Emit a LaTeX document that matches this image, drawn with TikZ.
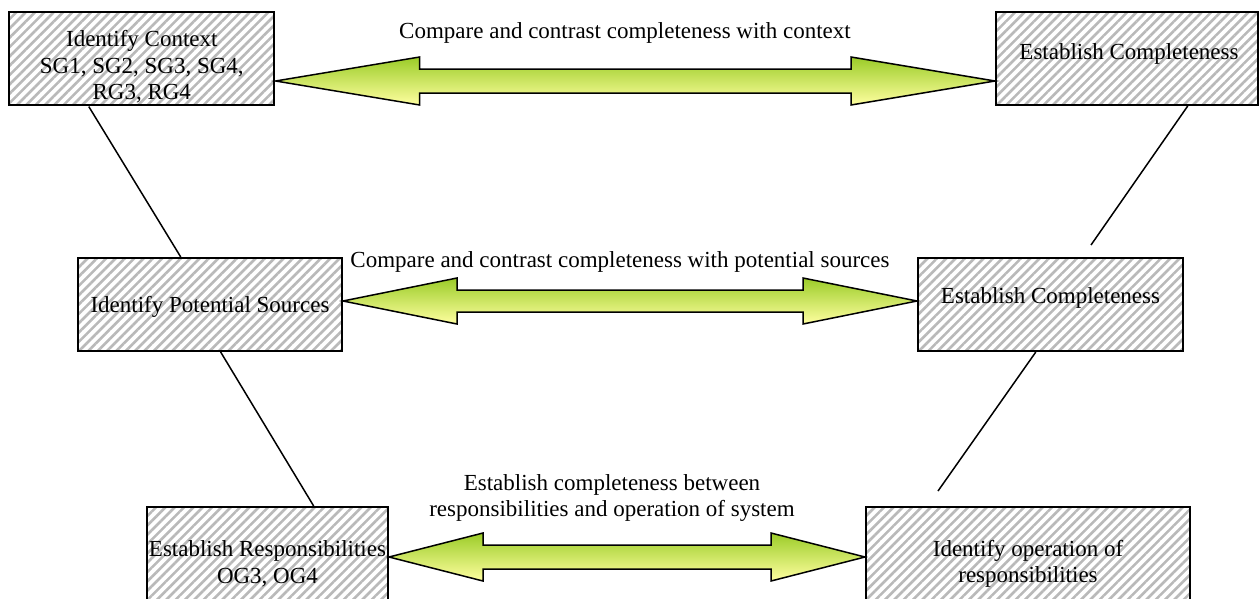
\documentclass[tikz,border=0pt]{standalone}
\usepackage{fontspec}
\setmainfont{Liberation Serif}
\usetikzlibrary{patterns.meta,calc}
\definecolor{arrtop}{RGB}{155,204,40}
\definecolor{arrbot}{RGB}{255,255,160}
\definecolor{hatch}{RGB}{185,185,185}
\tikzset{
  box/.style={draw=black, line width=2pt, anchor=north west, inner sep=0pt,
    pattern={Lines[angle=45,distance=6.6pt,line width=2.6pt]}, pattern color=hatch},
  link/.style={draw=black, line width=1.5pt},
  fat/.style={draw=black, line width=1.5pt, line join=miter, top color=arrtop, bottom color=arrbot},
  lbl/.style={align=center, font=\fontsize{23}{26.5}\selectfont, inner sep=0pt}
}
% #1 left tip, #2 right tip, #3 head length, #4 head half height, #5 shaft half height
\newcommand{\fatarrow}[5]{%
  \path[fat] (#1) -- ($(#1)+(#3,#4)$) -- ($(#1)+(#3,#5)$) -- ($(#2)+(-#3,#5)$) -- ($(#2)+(-#3,#4)$)
    -- (#2) -- ($(#2)+(-#3,-#4)$) -- ($(#2)+(-#3,-#5)$) -- ($(#1)+(#3,-#5)$) -- ($(#1)+(#3,-#4)$) -- cycle;}
\begin{document}
\begin{tikzpicture}[x=1pt,y=-1pt]
\useasboundingbox (0,0) rectangle (1259,598);
\node[box, minimum width=265pt, minimum height=93pt] (A) at (8,11) {};
\node[box, minimum width=262pt, minimum height=93pt] (B) at (995,11) {};
\node[box, minimum width=264pt, minimum height=93pt] (C) at (77,257) {};
\node[box, minimum width=265pt, minimum height=93pt] (D) at (917,257) {};
\node[box, minimum width=241pt, minimum height=100pt] (E) at (146,506) {};
\node[box, minimum width=324pt, minimum height=100pt] (F) at (865,506) {};

\node[lbl] (At) at ($(A.center)+(0,8)$) {Identify Context\\SG1, SG2, SG3, SG4,\\RG3, RG4};
\node[lbl] (Bt) at ($(B.center)+(2,-5)$) {Establish Completeness};
\node[lbl] (Ct) at ($(C.center)+(0,2)$) {Identify Potential Sources};
\node[lbl] (Dt) at ($(D.center)+(0,-7)$) {Establish Completeness};
\node[lbl] (Et) at ($(E.center)+(0,7)$) {Establish Responsibilities\\OG3, OG4};
\node[lbl] (Ft) at ($(F.center)+(0,7)$) {Identify operation of\\responsibilities};

\draw[link] ($(A.south west)!0.302!(A.south east)$) -- ($(C.north west)!0.39!(C.north east)$);
\draw[link] ($(C.south west)!0.54!(C.south east)$) -- ($(E.north west)!0.69!(E.north east)$);
\coordinate (bEnd) at (1091,245);
\coordinate (dEnd) at (938,491);
\draw[link] ($(B.south west)!0.73!(B.south east)$) -- (bEnd);
\draw[link] ($(D.south west)!0.445!(D.south east)$) -- (dEnd);

\coordinate (t1l) at (A.east |- 0,81);
\coordinate (t1r) at (B.west |- 0,81);
\coordinate (t2l) at (C.east |- 0,301);
\coordinate (t2r) at (D.west |- 0,301);
\coordinate (t3l) at (E.east |- 0,557);
\coordinate (t3r) at (F.west |- 0,557);
\fatarrow{t1l}{t1r}{144}{24}{12}
\fatarrow{t2l}{t2r}{114}{23}{11}
\fatarrow{t3l}{t3r}{94}{24}{12}

\node[lbl] (L1) at (625,33) {Compare and contrast completeness with context};
\node[lbl] (L2) at (620,262) {Compare and contrast completeness with potential sources};
\node[lbl] (L3) at (612,498) {Establish completeness between\\responsibilities and operation of system};
\end{tikzpicture}
\end{document}
